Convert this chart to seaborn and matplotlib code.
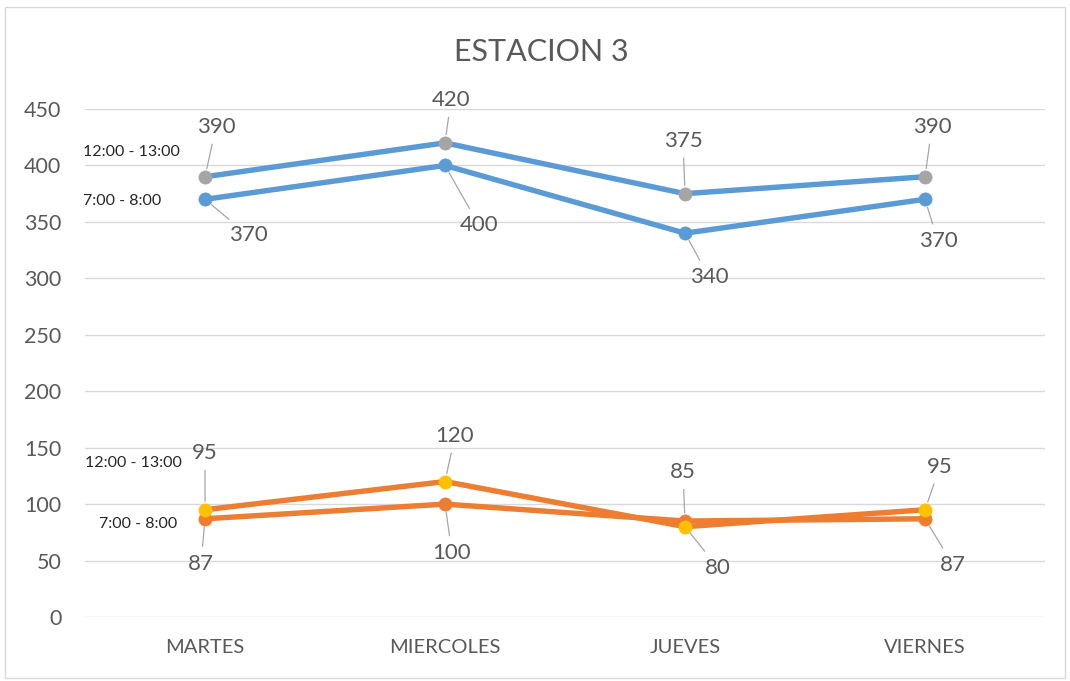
import matplotlib
matplotlib.use("Agg")
import matplotlib.pyplot as plt
import seaborn as sns
import pandas as pd
from matplotlib.patches import Rectangle

# ---- data ----
days = ["MARTES", "MIERCOLES", "JUEVES", "VIERNES"]
blue_7_8 = [370, 400, 340, 370]
blue_12_13 = [390, 420, 375, 390]
orange_7_8 = [87, 100, 85, 87]
orange_12_13 = [95, 120, 80, 95]
yticks = [0, 50, 100, 150, 200, 250, 300, 350, 400, 450]
title = "ESTACION 3"
label_12 = "12:00 - 13:00"
label_7 = "7:00 - 8:00"

sns.set_theme(style="white")
plt.rcParams['font.family'] = ['Lato', 'DejaVu Sans']

TXT = "#595959"
BLUE = "#5B9BD5"
ORANGE = "#ED7D31"
GRAY = "#A5A5A5"
YELLOW = "#FFC000"
LEADER = "#A6A6A6"

fig = plt.figure(figsize=(10.70, 6.81), dpi=100)
ax = fig.add_axes([85/1070, 1-617/681, (1045-85)/1070, (617-109)/681])

x = list(range(len(days)))
series = [
    (blue_7_8, BLUE, BLUE),
    (blue_12_13, BLUE, GRAY),
    (orange_7_8, ORANGE, ORANGE),
    (orange_12_13, ORANGE, YELLOW),
]
for vals, lc, mc in series:
    df = pd.DataFrame({"x": x, "y": vals})
    sns.lineplot(data=df, x="x", y="y", ax=ax, color=lc, linewidth=3.9,
                 marker="o", markersize=9.5, markerfacecolor=mc,
                 markeredgecolor=mc, markeredgewidth=0.5,
                 solid_capstyle="round", solid_joinstyle="round")

ax.set_xlim(-0.5, len(days) - 0.5)
ax.set_ylim(min(yticks), max(yticks))
ax.set_yticks(yticks)
ax.set_xticks(x)
ax.set_xticklabels(days)
ax.set_xlabel("")
ax.set_ylabel("")
ax.yaxis.grid(True, color="#D9D9D9", linewidth=1.0)
ax.set_axisbelow(True)
for s in ax.spines.values():
    s.set_visible(False)
ax.tick_params(axis="y", length=0, pad=17, labelsize=15.5, labelcolor=TXT)
ax.tick_params(axis="x", length=0, pad=16, labelsize=14.5, labelcolor=TXT)

# data labels: (values, offsets in pixels (dx, dy up))
label_specs = [
    (blue_12_13, [(11, 50), (6, 43), (-2, 53), (7, 50)]),
    (blue_7_8, [(43, -36), (34, -60), (24, -44), (13, -42)]),
    (orange_12_13, [(0, 57), (10, 46), (33, -41), (15, 43)]),
    (orange_7_8, [(-4, -45), (7, -49), (-2, 49), (28, -46)]),
]
for vals, offs in label_specs:
    for i, (v, (dx, dy)) in enumerate(zip(vals, offs)):
        ax.annotate(str(v), xy=(i, v), xytext=(dx, dy), textcoords="offset pixels",
                    ha="center", va="center", fontsize=16, color=TXT,
                    arrowprops=dict(arrowstyle="-", color=LEADER, lw=0.9,
                                    shrinkA=3, shrinkB=6))

# series name labels
ax.annotate(label_12, xy=(131, 681-152), xycoords="figure pixels", ha="center", va="center",
            fontsize=11.5, color="#262626")
ax.annotate(label_7, xy=(122, 681-201), xycoords="figure pixels", ha="center", va="center",
            fontsize=11.5, color="#262626")
ax.annotate(label_12, xy=(133, 681-463), xycoords="figure pixels", ha="center", va="center",
            fontsize=11.5, color="#262626")
ax.annotate(label_7, xy=(138, 681-524), xycoords="figure pixels", ha="center", va="center",
            fontsize=11.5, color="#262626")

fig.text(541/1070, 1-52/681, title, ha="center", va="center", fontsize=22, color=TXT)

fig.patches.append(Rectangle((5/1070, 3/681), 1060/1070, 671/681, transform=fig.transFigure,
                             fill=False, edgecolor="#D9D9D9", linewidth=1.0))

fig.savefig("out.png", dpi=100)
